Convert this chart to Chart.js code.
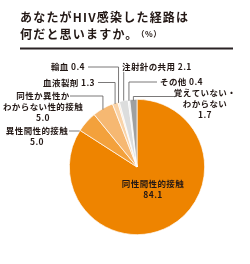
<!DOCTYPE html>
<html>
<head>
<meta charset="utf-8">
<script src="https://cdn.jsdelivr.net/npm/chart.js@4/dist/chart.umd.min.js"></script>
<style>
    html, body { margin: 0; padding: 0; background: #fff; }
    #wrap { width: 250px; height: 264px; }
</style>
</head>
<body>
<div id="wrap"><canvas id="chart" width="250" height="264"></canvas></div>
<script>
// Datos del gráfico
const categories = ["同性間性的接触", "異性間性的接触", ["同性か異性か", "わからない性的接触"], "血液製剤", "輸血", "注射針の共用", "その他", ["覚えていない・", "わからない"]];
const values = [84.1, 5.0, 5.0, 1.3, 0.4, 2.1, 0.4, 1.7];
const sliceColors = ["#EE8400", "#F3A13C", "#F6B872", "#F9D3A8", "#FCE8D2", "#DCDDDD", "#EFEFEF", "#9FA0A0"];
const titleLines = ["あなたがHIV感染した経路は", "何だと思いますか。"];
const unitText = "（%）";

const TEXT = "#231815";
const LINE = "#595757";
const FONT = '"Noto Sans CJK JP", "Noto Sans", sans-serif';

// Posición de cada etiqueta (solo maquetación)
const LAYOUT = [
    { inside: true, x: 153, y: 184 },
    { x: 37, y: 131, align: "center", stack: true, lead: "h", lx: 69 },
    { x: 43, y: 96, align: "center", stack: true, lead: "hv", lx: 70 },
    { x: 95, y: 82.5, align: "right", lead: "hv", lx: 98 },
    { x: 85, y: 67, align: "right", lead: "hv", lx: 88 },
    { x: 122, y: 67, align: "left", lead: "v", ly: 72 },
    { x: 160, y: 82, align: "left", lead: "hv", lx: 157 },
    { x: 205, y: 93, align: "center", stack: true, lead: "hv", lx: 176, hy: 96.5 },
];

const labelPlugin = {
    id: "labels",
    afterDraw(chart) {
        const ctx = chart.ctx;
        ctx.save();

        // Título
        ctx.fillStyle = TEXT;
        ctx.textBaseline = "middle";
        ctx.textAlign = "left";
        ctx.letterSpacing = "1.2px";
        ctx.font = "bold 12px " + FONT;
        ctx.fillText(titleLines[0], 20, 17);
        ctx.fillText(titleLines[1], 20, 34);
        const w2 = ctx.measureText(titleLines[1]).width;
        ctx.font = "bold 8px " + FONT;
        ctx.letterSpacing = "0.5px";
        ctx.fillText(unitText, 20 + w2 - 2, 34);

        ctx.fillStyle = "#2a2224";
        ctx.fillRect(20, 47.5, 213, 2);

        // Etiquetas y líneas guía
        const meta = chart.getDatasetMeta(0);
        ctx.font = "bold 8.5px " + FONT;
        ctx.letterSpacing = "0.4px";
        ctx.strokeStyle = LINE;
        ctx.lineWidth = 0.8;
        meta.data.forEach((arc, i) => {
            const p = arc.getProps(["x", "y", "startAngle", "endAngle", "outerRadius"], true);
            const mid = (p.startAngle + p.endAngle) / 2;
            const ex = p.x + p.outerRadius * Math.cos(mid);
            const ey = p.y + p.outerRadius * Math.sin(mid);
            const L = LAYOUT[i];
            const name = Array.isArray(categories[i]) ? categories[i] : [categories[i]];
            const val = values[i].toFixed(1);
            let lines;
            if (L.inside || L.stack) lines = [...name, val];
            else lines = [name[0] + " " + val];

            ctx.fillStyle = TEXT;
            ctx.textAlign = L.inside ? "center" : L.align;
            lines.forEach((t, k) => ctx.fillText(t, L.x, L.y + k * 11));

            if (L.inside) return;
            ctx.beginPath();
            if (L.lead === "h") {
                const dy = L.y - p.y;
                const hx = p.x - Math.sqrt(p.outerRadius * p.outerRadius - dy * dy);
                ctx.moveTo(L.lx, L.y);
                ctx.lineTo(hx, L.y);
            } else if (L.lead === "v") {
                ctx.moveTo(ex, L.ly);
                ctx.lineTo(ex, ey);
            } else {
                const hy = L.hy || L.y;
                ctx.moveTo(L.lx, hy);
                ctx.lineTo(ex, hy);
                ctx.lineTo(ex, ey + 1);
            }
            ctx.stroke();
        });
        ctx.restore();
    }
};

new Chart(document.getElementById("chart").getContext("2d"), {
    type: "pie",
    data: {
        labels: categories,
        datasets: [{
            data: values,
            backgroundColor: sliceColors,
            borderColor: "#ffffff",
            borderWidth: 0.7,
        }],
    },
    options: {
        responsive: false,
        animation: false,
        layout: { padding: { left: 69, right: 45, top: 99, bottom: 29 } },
        plugins: {
            legend: { display: false },
            tooltip: { enabled: false },
        },
    },
    plugins: [labelPlugin],
});
</script>
</body>
</html>
